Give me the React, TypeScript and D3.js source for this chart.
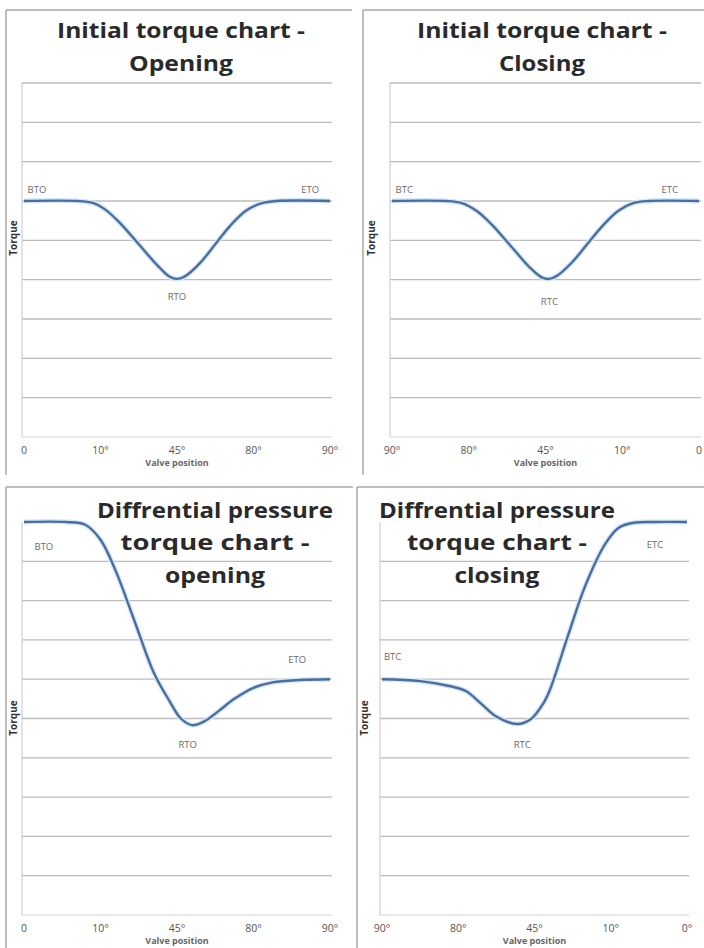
import * as d3 from "d3";

// valve positions shown under each chart
const openingTicks = ["0", "10°", "45°", "80°", "90°"];
const closingTicks = ["90°", "80°", "45°", "10°", "0"];
const dpClosingTicks = ["90°", "80°", "45°", "10°", "0°"];

// curves: position along the travel (0..4 = tick steps) and torque
const initOpenPos = [0, 0.7, 0.9, 1.05, 1.25, 1.5, 1.75, 1.9, 2, 2.1, 2.3, 2.5, 2.7, 2.9, 3.1, 3.3, 4];
const initOpenTorque = [6, 6, 5.95, 5.8, 5.45, 4.9, 4.35, 4.08, 4.02, 4.08, 4.42, 4.9, 5.38, 5.75, 5.94, 6, 6];

const initClosePos = [0, 0.7, 0.9, 1.1, 1.3, 1.55, 1.8, 1.95, 2.05, 2.15, 2.35, 2.55, 2.75, 2.95, 3.15, 3.35, 4];
const initCloseTorque = [6, 6, 5.95, 5.75, 5.4, 4.85, 4.3, 4.06, 4.02, 4.1, 4.45, 4.92, 5.38, 5.75, 5.95, 6, 6];

const dpOpenPos = [0, 0.55, 0.8, 1, 1.2, 1.45, 1.7, 1.9, 2.05, 2.2, 2.35, 2.55, 2.75, 3, 3.25, 3.6, 4];
const dpOpenTorque = [10, 10, 9.93, 9.55, 8.75, 7.45, 6.15, 5.45, 5, 4.83, 4.92, 5.2, 5.5, 5.78, 5.92, 5.98, 6];

const dpClosePos = [0, 0.5, 0.9, 1.1, 1.3, 1.5, 1.77, 1.95, 2.12, 2.2, 2.45, 2.66, 2.92, 3.1, 3.3, 3.6, 4];
const dpCloseTorque = [6, 5.95, 5.82, 5.7, 5.38, 5.05, 4.86, 4.98, 5.4, 5.72, 7.17, 8.35, 9.42, 9.85, 9.98, 10, 10];

// point labels (breakaway / running / ending)
const initOpenLabels = ["BTO", "RTO", "ETO"];
const initOpenLabelPos = [0.17, 2.0, 3.74];
const initOpenLabelTorque = [6.2, 3.48, 6.2];

const initCloseLabels = ["BTC", "RTC", "ETC"];
const initCloseLabelPos = [0.16, 2.05, 3.62];
const initCloseLabelTorque = [6.2, 3.36, 6.2];

const dpOpenLabels = ["BTO", "RTO", "ETO"];
const dpOpenLabelPos = [0.26, 2.14, 3.57];
const dpOpenLabelTorque = [9.29, 4.25, 6.41];

const dpCloseLabels = ["BTC", "RTC", "ETC"];
const dpCloseLabelPos = [0.14, 1.84, 3.58];
const dpCloseLabelTorque = [6.49, 4.25, 9.34];

const initGrid = [1, 2, 3, 4, 5, 6, 7, 8, 9];
const dpGrid = [1, 2, 3, 4, 5, 6, 7, 8, 9];

interface PanelProps {
  left: number;
  top: number;
  right: number;
  bottom: number;
  x0: number;
  x1: number;
  yBottom: number;
  yTop: number;
  yMax: number;
  grid: number[];
  title: string[];
  titleX: number;
  titleY: number[];
  titleW: number[];
  ticks: string[];
  pos: number[];
  torque: number[];
  labels: string[];
  labelPos: number[];
  labelTorque: number[];
  torqueX: number;
  torqueY: number;
}

const Panel = (p: PanelProps) => {
  const x = d3.scaleLinear().domain([0, 4]).range([p.x0, p.x1]);
  const y = d3.scaleLinear().domain([0, p.yMax]).range([p.yBottom, p.yTop]);
  const pts = p.pos.map((d, i) => [d, p.torque[i]] as [number, number]);
  const line = d3
    .line<[number, number]>()
    .x((d) => x(d[0]))
    .y((d) => y(d[1]))
    .curve(d3.curveCatmullRom.alpha(0.5));
  const d = line(pts) ?? "";

  return (
    <g>
      <line x1={p.left} x2={p.right} y1={p.top} y2={p.top} stroke="#a8a8a8" strokeWidth={1.5} />
      <line x1={p.left} x2={p.left} y1={p.top} y2={p.bottom} stroke="#a8a8a8" strokeWidth={1.5} />
      {p.grid.map((v) => (
        <line key={v} x1={p.x0 - 2} x2={p.x1 + 2} y1={y(v)} y2={y(v)} stroke="#bcbcbc" strokeWidth={1.3} />
      ))}
      <line x1={p.x0 - 2} x2={p.x1 + 2} y1={y(0)} y2={y(0)} stroke="#d2d2d2" strokeWidth={1} />
      <line x1={p.x0 - 2} x2={p.x0 - 2} y1={p.yTop} y2={p.yBottom} stroke="#cfcfcf" strokeWidth={1.2} />
      <path d={d} fill="none" stroke="#d6e7f6" strokeWidth={5} />
      <path d={d} fill="none" stroke="#4a6e9e" strokeWidth={2.4} />
      {p.labels.map((t, i) => (
        <text
          key={t}
          x={x(p.labelPos[i])}
          y={y(p.labelTorque[i])}
          textAnchor="middle"
          fontSize={9.5}
          fill="#6a6a6a"
          fontFamily="Open Sans"
        >
          {t}
        </text>
      ))}
      {p.ticks.map((t, i) => (
        <text
          key={i}
          x={x(i)}
          y={p.yBottom + 17}
          textAnchor="middle"
          fontSize={10.5}
          fill="#555"
          fontFamily="Open Sans"
        >
          {t}
        </text>
      ))}
      <text
        x={x(2)}
        y={p.yBottom + 29}
        textAnchor="middle"
        fontSize={9}
        fill="#666"
        fontFamily="Open Sans"
        fontWeight="bold"
      >
        Valve position
      </text>
      <text
        transform={`translate(${p.torqueX},${p.torqueY}) rotate(-90)`}
        textAnchor="middle"
        fontSize={10}
        fill="#333"
        fontFamily="Open Sans"
        fontWeight="bold"
      >
        Torque
      </text>
      {p.title.map((t, i) => (
        <text
          key={i}
          x={p.titleX}
          y={p.titleY[i]}
          textAnchor="middle"
          fontSize={21}
          fontWeight="bold"
          fill="#2a2a2a"
          fontFamily="Open Sans"
          textLength={p.titleW[i]}
          lengthAdjust="spacingAndGlyphs"
        >
          {t}
        </text>
      ))}
    </g>
  );
};

const App = () => {
  return (
    <div style={{ position: "absolute", left: 0, top: 0 }}>
      <svg width={704} height={948} style={{ display: "block", background: "#fff" }}>
        <Panel
          left={6} top={10} right={352} bottom={475}
          x0={24} x1={330} yBottom={437} yTop={83} yMax={9}
          grid={initGrid}
          title={["Initial torque chart -", "Opening"]}
          titleX={181} titleY={[38, 71]} titleW={[248, 104]}
          ticks={openingTicks}
          pos={initOpenPos} torque={initOpenTorque}
          labels={initOpenLabels} labelPos={initOpenLabelPos} labelTorque={initOpenLabelTorque}
          torqueX={17} torqueY={238}
        />
        <Panel
          left={363} top={10} right={704} bottom={475}
          x0={392} x1={699} yBottom={437} yTop={83} yMax={9}
          grid={initGrid}
          title={["Initial torque chart -", "Closing"]}
          titleX={542} titleY={[38, 71]} titleW={[250, 86]}
          ticks={closingTicks}
          pos={initClosePos} torque={initCloseTorque}
          labels={initCloseLabels} labelPos={initCloseLabelPos} labelTorque={initCloseLabelTorque}
          torqueX={375} torqueY={238}
        />
        <Panel
          left={6} top={487} right={353} bottom={948}
          x0={24} x1={330} yBottom={915} yTop={522} yMax={10}
          grid={dpGrid}
          title={["Diffrential pressure", "torque chart  -", "opening"]}
          titleX={215} titleY={[518, 550, 583]} titleW={[236, 189, 100]}
          ticks={openingTicks}
          pos={dpOpenPos} torque={dpOpenTorque}
          labels={dpOpenLabels} labelPos={dpOpenLabelPos} labelTorque={dpOpenLabelTorque}
          torqueX={17} torqueY={718}
        />
        <Panel
          left={357} top={487} right={704} bottom={948}
          x0={382} x1={687} yBottom={915} yTop={522} yMax={10}
          grid={dpGrid}
          title={["Diffrential pressure", "torque chart  -", "closing"]}
          titleX={497} titleY={[518, 550, 583]} titleW={[236, 180, 85]}
          ticks={dpClosingTicks}
          pos={dpClosePos} torque={dpCloseTorque}
          labels={dpCloseLabels} labelPos={dpCloseLabelPos} labelTorque={dpCloseLabelTorque}
          torqueX={368} torqueY={718}
        />
      </svg>
    </div>
  );
};

export default App;
